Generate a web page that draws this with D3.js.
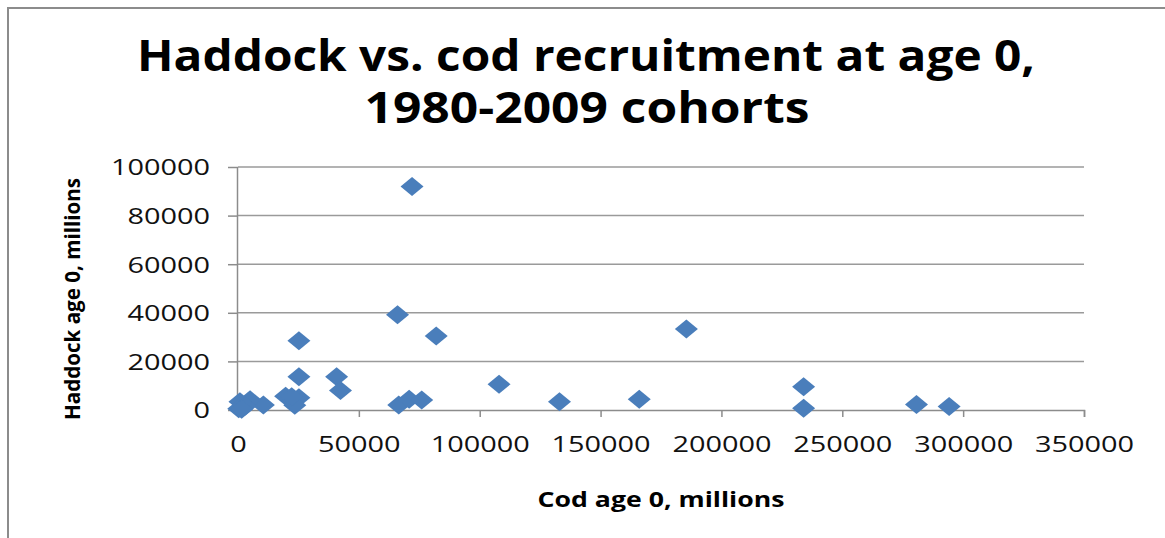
<!DOCTYPE html>
<html>
<head>
<meta charset="utf-8">
<script src="https://cdnjs.cloudflare.com/ajax/libs/d3/7.8.5/d3.min.js"></script>
<style>
  body { margin: 0; background: #fff; }
  svg { display: block; font-family: "Open Sans", sans-serif; }
</style>
</head>
<body>
<svg width="1165" height="538"></svg>
<script>
// cod age 0 (x) vs haddock age 0 (y), millions
var codAge0 = [72000, 66000, 82000, 108000, 66500, 70800, 76000, 133000, 166000, 185500,
  234000, 234000, 280700, 294200, 25200, 25200, 40800, 42400, 19700, 25200,
  23500, 10500, 5000, 800, 300, 3000, 22200, 1500];
var haddockAge0 = [92000, 39200, 30500, 10600, 2100, 4400, 4100, 3400, 4400, 33300,
  9600, 700, 2300, 1400, 28500, 13700, 13700, 8000, 5700, 5000,
  2000, 2100, 4200, 3400, 500, 1600, 5500, 300];
var xTicks = [0, 50000, 100000, 150000, 200000, 250000, 300000, 350000];
var yTicks = [0, 20000, 40000, 60000, 80000, 100000];

var svg = d3.select("svg");
var plotLeft = 238, plotRight = 1084, plotTop = 167, plotBottom = 410;

var x = d3.scaleLinear().domain([0, 350000]).range([plotLeft, plotRight]);
var y = d3.scaleLinear().domain([0, 100000]).range([plotBottom, plotTop]);

// chart frame (only left and top edges are visible in the crop)
svg.append("path")
  .attr("d", "M8,545 L8,8 L1175,8")
  .attr("fill", "none")
  .attr("stroke", "#8c8c8c")
  .attr("stroke-width", 2);

// title
var title = svg.append("g").attr("font-weight", "bold").attr("fill", "#000")
  .attr("text-anchor", "middle").attr("font-size", 43);
title.append("text").attr("x", 586).attr("y", 71)
  .attr("textLength", 898).attr("lengthAdjust", "spacingAndGlyphs")
  .text("Haddock vs. cod recruitment at age 0,");
title.append("text").attr("x", 587).attr("y", 123)
  .attr("textLength", 445).attr("lengthAdjust", "spacingAndGlyphs")
  .text("1980-2009 cohorts");

// gridlines
svg.append("g").selectAll("line")
  .data(yTicks.slice(1))
  .enter().append("line")
  .attr("x1", plotLeft).attr("x2", plotRight)
  .attr("y1", function(d) { return y(d); })
  .attr("y2", function(d) { return y(d); })
  .attr("stroke", "#9a9a9a")
  .attr("stroke-width", 1.5);

// axes
var yAxis = svg.append("g")
  .attr("transform", "translate(" + plotLeft + ",0)")
  .call(d3.axisLeft(y).tickValues(yTicks).tickSize(10).tickPadding(18).tickFormat(function(d) { return d; }));
var xAxis = svg.append("g")
  .attr("transform", "translate(0," + plotBottom + ")")
  .call(d3.axisBottom(x).tickValues(xTicks).tickSize(7).tickPadding(20).tickFormat(function(d) { return d; }));

[yAxis, xAxis].forEach(function(a) {
  a.select(".domain").attr("stroke", "#8c8c8c").attr("stroke-width", 1.5);
  a.selectAll(".tick line").attr("stroke", "#8c8c8c").attr("stroke-width", 1.5);
  a.selectAll(".tick text")
    .attr("font-family", "Open Sans, sans-serif")
    .attr("font-size", 22)
    .attr("fill", "#111")
    .attr("lengthAdjust", "spacingAndGlyphs")
    .attr("textLength", function(d) { return String(d).length * 16.5; });
});
yAxis.selectAll(".tick text").attr("dy", "0.36em");
xAxis.selectAll(".tick text").attr("dy", "0.7em");
yAxis.select(".domain").attr("d", "M-0.5," + plotTop + "V" + plotBottom);

// axis titles
svg.append("text")
  .attr("transform", "translate(80,299) rotate(-90)")
  .attr("text-anchor", "middle")
  .attr("font-size", 21)
  .attr("font-weight", "bold")
  .attr("fill", "#000")
  .attr("textLength", 242).attr("lengthAdjust", "spacingAndGlyphs")
  .text("Haddock age 0, millions");

svg.append("text")
  .attr("x", 661).attr("y", 507)
  .attr("text-anchor", "middle")
  .attr("font-size", 21)
  .attr("font-weight", "bold")
  .attr("fill", "#000")
  .attr("textLength", 247).attr("lengthAdjust", "spacingAndGlyphs")
  .text("Cod age 0, millions");

// diamonds
svg.append("g").selectAll("path")
  .data(d3.range(codAge0.length))
  .enter().append("path")
  .attr("transform", function(i) { return "translate(" + x(codAge0[i]) + "," + y(haddockAge0[i]) + ")"; })
  .attr("d", "M0,-9.5 L11.5,0 L0,9.5 L-11.5,0 Z")
  .attr("fill", "#4a7ebb");
</script>
</body>
</html>
